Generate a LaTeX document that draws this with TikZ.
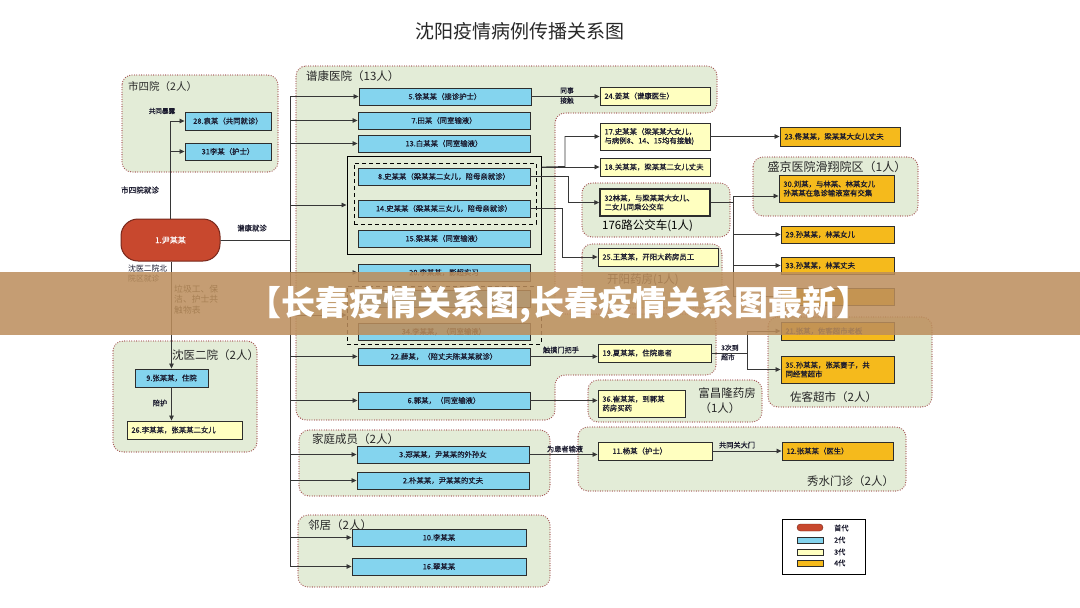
\documentclass[tikz,border=0pt]{standalone}
\usepackage{fontspec}
\setmainfont{Noto Sans CJK SC}
\newfontfamily\boxfont[FakeBold=0.5]{Noto Sans CJK SC}
\usetikzlibrary{arrows.meta}
\definecolor{cy}{RGB}{132,212,238}
\definecolor{yl}{RGB}{255,255,192}
\definecolor{og}{RGB}{245,186,28}
\definecolor{rootred}{RGB}{200,72,46}
\definecolor{rootline}{RGB}{120,40,28}
\definecolor{grpfill}{RGB}{227,236,215}
\definecolor{grpline}{RGB}{165,85,85}
\definecolor{boxline}{RGB}{45,45,45}
\definecolor{conn}{RGB}{55,55,55}
\definecolor{txt}{RGB}{25,25,45}
\definecolor{gtxt}{RGB}{40,40,40}
\definecolor{bannerc}{RGB}{188,142,92}
\tikzset{
  box/.style={draw=boxline, line width=0.9pt, inner sep=0pt, align=center,
    font=\boxfont\fontsize{7.4}{9}\selectfont, text=txt},
  cbox/.style={box, fill=cy},
  ybox/.style={box, fill=yl, inner xsep=4.5pt, align=left},
  obox/.style={box, fill=og, inner xsep=4.5pt, align=left},
  grp/.style={draw=grpline, fill=grpfill, line width=1.3pt, dash pattern=on 0pt off 2.4pt,
    line cap=round, rounded corners=10pt},
  arr/.style={draw=conn, line width=0.8pt, -{Triangle[length=5pt,width=4.5pt]}},
  glab/.style={font=\fontsize{11.5}{13}\selectfont, text=gtxt, inner sep=0pt},
  slab/.style={font=\boxfont\fontsize{7.2}{9}\selectfont, text=txt, inner sep=0pt, align=left},
}
% centered box: style, name, x1, y1, x2, y2, text
\newcommand\bx[7]{\node[#1, minimum width={#5-#3}, minimum height={#6-#4}] (#2)
  at ({(#3+#5)/2},{(#4+#6)/2}) {#7};}
% left aligned box
\newcommand\lbx[7]{\node[#1, minimum width={#5-#3}, minimum height={#6-#4}, text width={#5-#3-9}] (#2)
  at ({(#3+#5)/2},{(#4+#6)/2}) {#7};}
\begin{document}
\begin{tikzpicture}[x=1pt, y=-1pt]
\useasboundingbox (0,0) rectangle (1080,608);
\fill[white] (0,0) rectangle (1080,608);

% title
\node[font=\fontsize{19}{22}\selectfont, text=gtxt] (title) at (520,31) {沈阳疫情病例传播关系图};

% groups
\draw[grp] (122,75) rectangle (278,172);
\draw[grp] (296,66) -- (717,66) -- (717,113) -- (555,113) -- (555,314) -- (716,314) -- (716,375) -- (555,375) -- (555,420) -- (296,420) -- cycle;
\draw[grp] (582,183) rectangle (730,237);
\draw[grp] (582,244) rectangle (722,308);
\draw[grp] (753,157) rectangle (918,216);
\draw[grp] (768,317) rectangle (932,407);
\draw[grp] (588,380) rectangle (762,422);
\draw[grp] (578,427) rectangle (906,491);
\draw[grp] (299,430) rectangle (550,496);
\draw[grp] (298,515) rectangle (550,587);
\draw[grp] (113,341) rectangle (257,452);

% group labels
\node[glab, font=\fontsize{10.5}{12}\selectfont, anchor=west] (l1) at (128,87) {市四院（2人）};
\node[glab, anchor=west] (l2) at (306,76) {谱康医院（13人）};
\node[glab, anchor=west, text=black] (l3) at (602,226) {176路公交车(1人)};
\node[glab, anchor=west] (l4) at (607,280) {开阳药房(1人)};
\node[glab, font=\fontsize{12}{13}\selectfont] (l5) at (837,167) {盛京医院滑翔院区（1人）};
\node[glab, anchor=west] (l6) at (790,397) {佐客超市（2人）};
\node[glab] (l7a) at (727,393) {富昌隆药房};
\node[glab] (l7b) at (720,408) {（1人）};
\node[glab, anchor=west] (l8) at (807,481) {秀水门诊（2人）};
\node[glab, anchor=west] (l9) at (312,439) {家庭成员（2人）};
\node[glab, anchor=west] (l10) at (308,525) {邻居（2人）};
\node[glab, anchor=west] (l11) at (172,355) {沈医二院（2人）};

% root
\node[draw=rootline, line width=1pt, fill=rootred, rounded corners=17pt, minimum width=99, minimum height=42,
  font=\boxfont\fontsize{8}{9}\selectfont, text=white] (n1) at (170.5,240) {1.尹某某};

% blocks
\bx{draw=black, line width=1pt}{blk1}{347}{156}{541}{254}{}
\bx{draw=black, line width=1pt, dashed, dash pattern=on 4pt off 3pt}{dsh1}{354}{163}{536}{224}{}
\bx{draw=black, line width=1pt, dashed, dash pattern=on 4pt off 3pt}{blk2}{347}{286}{541}{344}{}

% cyan boxes
\bx{cbox}{n28}{185}{112}{271}{130}{28.袁某（共同就诊）}
\bx{cbox}{n31}{185}{143}{271}{160}{31李某（护士）}
\bx{cbox}{n5}{359}{88}{531}{105}{5.徐某某（接诊护士）}
\bx{cbox}{n7}{358}{112}{530}{129}{7.田某（同室输液）}
\bx{cbox}{n13}{358}{135}{530}{152}{13.白某某（同室输液）}
\bx{cbox}{n8}{358}{168}{530}{185}{8.史某某（梁某某二女儿，陪母亲就诊）}
\bx{cbox}{n14}{358}{200}{530}{217}{14.史某某（梁某某三女儿，陪母亲就诊）}
\bx{cbox}{n15}{358}{230}{530}{247}{15.梁某某（同室输液）}
\bx{cbox}{n20}{358}{264}{530}{281}{20.李某某，影超实习}
\bx{cbox}{n4}{358}{290}{530}{307}{}
\bx{cbox}{n34}{358}{323}{530}{340}{34.李某某，（同室输液）}
\bx{cbox}{n22}{358}{348}{530}{365}{22.薛某，（陪丈夫陈某某就诊）}
\bx{cbox}{n6}{358}{392}{530}{409}{6.郭某，（同室输液）}
\bx{cbox}{n3}{357}{446}{529}{463}{3.郑某某，尹某某的外孙女}
\bx{cbox}{n2}{357}{472}{529}{489}{2.朴某某，尹某某的丈夫}
\bx{cbox}{n10}{352}{529}{526}{546}{10.李某某}
\bx{cbox}{n16}{352}{558}{526}{575}{16.翠某某}
\bx{cbox}{n9}{135}{369}{208}{387}{9.张某某，住院}

% yellow boxes
\lbx{ybox}{n24}{600}{87}{710}{105}{24.姜某（谱康医生）}
\lbx{ybox}{n17}{600}{123}{710}{150}{17.史某某（梁某某大女儿，\\与病例8、14、15均有接触)}
\lbx{ybox}{n18}{600}{158}{710}{176}{18.关某某，梁某某二女儿丈夫}
\lbx{ybox, line width=1.4pt}{n32}{600}{189}{710}{216}{32林某，与梁某某大女儿、\\二女儿同乘公交车}
\lbx{ybox}{n25}{598}{248}{718}{266}{25.王某某，开阳大药房员工}
\lbx{ybox}{n19}{598}{344}{711}{362}{19.夏某某，住院患者}
\lbx{ybox}{n36}{598}{390}{685}{417}{36.崔某某，到郭某\\药房买药}
\lbx{ybox}{n11}{598}{442}{712}{460}{\hspace*{10pt}11.杨某（护士）}
\lbx{ybox}{n26}{127}{421}{242}{439}{26.李某某，张某某二女儿}

% orange boxes
\lbx{obox}{n23}{780}{127}{900}{146}{23.佟某某，梁某某大女儿丈夫}
\lbx{obox}{n30}{779}{175}{894}{202}{30.刘某，与林某、林某女儿\\孙某某在急诊输液室有交集}
\lbx{obox}{n29}{781}{226}{894}{243}{29.孙某某，林某女儿}
\lbx{obox}{n33}{781}{257}{894}{274}{33.孙某某，林某丈夫}
\lbx{obox}{n27}{781}{288}{894}{305}{}
\lbx{obox}{n21}{781}{322}{894}{340}{21.张某，佐客超市老板}
\lbx{obox}{n35}{781}{356}{894}{383}{35.孙某某，张某妻子，共\\同经营超市}
\lbx{obox}{n12}{782}{442}{893}{460}{12.张某某（医生）}

% connectors
\coordinate (bus) at (290,240);
\draw[arr] (n1.north) |- (n28.west);
\draw[arr] (n1.north) |- (n31.west);
\draw[arr] (n1.south -| n9.north) -- (n9.north);
\draw[arr] (n9.south) -- (n9.south |- n26.north);
\foreach \t in {n5,n7,n13,blk1,n20,blk2,n22,n6,n3,n2,n10,n16}
  \draw[arr] (n1.east) -- (bus) |- (\t.west);
\draw[arr] (n5.east) -- (n5.east -| n24.west);
\draw[arr] (blk1.east |- n18.west) -- (n18.west);
\draw[arr] (blk1.east |- n18.west) -- (565,166.5) |- (n17.west);
\draw[arr] (n8.east) -- (568,176.5) |- (n32.west);
\draw[arr] (n14.east) -- (562,208.5) |- (n25.west);
\draw[arr] (n17.east) -- (n23.west);
\draw[arr] (n32.east) -- (733,202.5) |- ([yshift=-7.5pt]n30.west);
\draw[arr] (n32.east) -- (733,202.5) |- (n29.west);
\draw[arr] (n32.east) -- (733,202.5) |- (n33.west);
\draw[arr] (n32.east) -- (733,202.5) |- (n27.west);
\draw[arr] (n22.east) -- (n22.east -| n19.west);
\draw[arr] (n19.east) -- (747,353) |- (n21.west);
\draw[arr] (n19.east) -- (747,353) |- (n35.west);
\draw[arr] (n6.east) -- (n6.east -| n36.west);
\draw[arr] (n3.east) -- (n3.east -| n11.west);
\draw[arr] (n11.east) -- (n12.west);

% small labels
\node[slab, font=\boxfont\fontsize{6.6}{8}\selectfont] (s1) at (162,111) {共同暴露};
\node[slab, font=\boxfont\fontsize{7.6}{9}\selectfont] (s2) at (140,190) {市四院就诊};
\node[slab, font=\boxfont\fontsize{7.4}{9}\selectfont] (s3) at (252,228) {谱康就诊};
\node[slab, font=\fontsize{7.8}{10}\selectfont, anchor=north west] (s4) at (128,265) {沈医二院北\\院区就诊};
\node[slab, font=\fontsize{8.8}{10.2}\selectfont, anchor=north west, text=gtxt] (s5) at (174,285) {垃圾工、保\\洁、护士共\\触物表};
\node[slab] (s6) at (160,403) {陪护};
\node[slab, align=center, font=\boxfont\fontsize{6.8}{10}\selectfont] (s7) at (567,95.5) {同事\\接触};
\node[slab] (s8) at (561,350) {触摸门把手};
\node[slab, font=\boxfont\fontsize{6.8}{9.5}\selectfont, anchor=west] (s9) at (721,352.5) {3次到\\超市};
\node[slab] (s10) at (737,445) {共同关大门};
\node[slab] (s11) at (565,449) {为患者输液};

% legend
\bx{draw=black, line width=1pt, fill=white}{leg}{782}{519}{865}{574}{}
\node[draw=rootline, fill=rootred, rounded corners=3.5pt, minimum width=26, minimum height=7, inner sep=0] (lg1) at (810,527.5) {};
\node[draw=boxline, fill=cy, minimum width=26, minimum height=6, inner sep=0] (lg2) at (810,540) {};
\node[draw=boxline, fill=yl, minimum width=26, minimum height=6, inner sep=0] (lg3) at (810,552) {};
\node[draw=boxline, fill=og, minimum width=26, minimum height=6, inner sep=0] (lg4) at (810,563) {};
\node[slab, anchor=west] (lt1) at (834,528) {首代};
\node[slab, anchor=west] (lt2) at (834,540) {2代};
\node[slab, anchor=west] (lt3) at (834,552) {3代};
\node[slab, anchor=west] (lt4) at (834,563) {4代};

% banner overlay
\fill[bannerc, opacity=0.86] (0,272) rectangle (1080,335);
\node[font=\fontsize{34}{37}\selectfont\bfseries, text=white, inner sep=0] (ban) at (559,305) {【长春疫情关系图,长春疫情关系图最新】};
\end{tikzpicture}
\end{document}
